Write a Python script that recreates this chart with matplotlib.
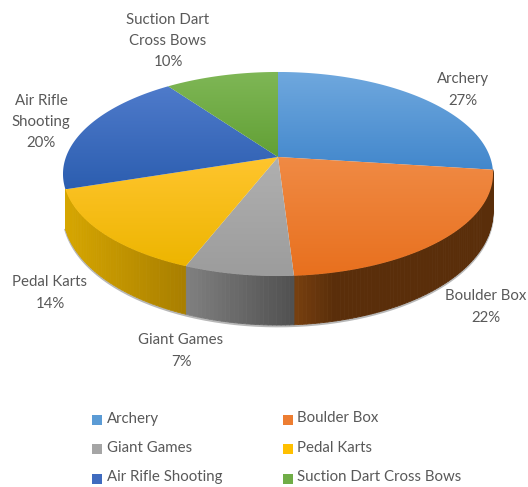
import numpy as np
import matplotlib
matplotlib.use("Agg")
import matplotlib.pyplot as plt
from matplotlib.colors import to_rgb
from matplotlib.patches import Polygon
from matplotlib.collections import PolyCollection

categories = ["Archery", "Boulder Box", "Giant Games", "Pedal Karts", "Air Rifle Shooting", "Suction Dart Cross Bows"]
label_texts = ["Archery\n27%", "Boulder Box\n22%", "Giant Games\n7%", "Pedal Karts\n14%", "Air Rifle\nShooting\n20%", "Suction Dart\nCross Bows\n10%"]
values = [27, 22, 7, 14, 20, 10]
top_light = ["#6FA8DE", "#F08A44", "#B0B0B0", "#FFC52E", "#4F7BCB", "#7FB756"]
top_dark = ["#4287CC", "#E8701E", "#9C9C9C", "#EDB500", "#2C5EB0", "#62A035"]
side_left = ["#5C300C", "#78400F", "#808080", "#D6A600", "#2A5098", "#4C7A30"]
side_right = ["#5A2E0A", "#5A2E0A", "#505050", "#A87E00", "#23457F", "#4C7A30"]
legend_colors = ["#5B9BD5", "#ED7D31", "#A5A5A5", "#FFC000", "#3F6BBF", "#70AD47"]

W, H = 528, 487
fig = plt.figure(figsize=(W / 100, H / 100), dpi=100, facecolor="white")
ax = fig.add_axes([0, 0, 1, 1])
ax.set_xlim(0, W)
ax.set_ylim(H, 0)
ax.axis("off")
plt.rcParams["font.family"] = ["Lato", "DejaVu Sans"]
TEXT = "#595959"

# perspective disc
cx, apex_y, A, B, k = 278, 157, 99.2, 212, 0.1667

def top_xy(t):
    w = 1 + k * np.cos(t)
    return cx + B * np.sin(t) / w, apex_y - A * np.cos(t) / w

def bottom_xy(t):
    x, y = top_xy(t)
    return x, y + 35 - 14 * np.cos(t)

edges = np.radians(np.cumsum([0] + values) * 3.6)
rim_start, rim_end = edges[1], edges[4]

# soft shadow under rim
front = np.linspace(rim_start, rim_end, 200)
sx, sy = bottom_xy(front)
ax.plot(sx, sy + 1.2, color="#9A9A9A", lw=1.6, alpha=0.7, zorder=1)

# rim
for i in range(len(values)):
    a, b = max(edges[i], rim_start), min(edges[i + 1], rim_end)
    if b <= a:
        continue
    ts = np.linspace(a, b, max(int((b - a) * 60), 2) + 1)
    x0, y0 = top_xy(ts)
    x1, y1 = bottom_xy(ts)
    polys, cols = [], []
    c0, c1 = np.array(to_rgb(side_left[i])), np.array(to_rgb(side_right[i]))
    xl, xr = min(x0.min(), x1.min()), max(x0.max(), x1.max())
    for j in range(len(ts) - 1):
        polys.append([(x0[j], y0[j]), (x0[j + 1], y0[j + 1]), (x1[j + 1], y1[j + 1]), (x1[j], y1[j])])
        f = ((x0[j] + x0[j + 1]) / 2 - xl) / max(xr - xl, 1)
        if i == 1:
            f = min(f * 5, 1)  # the orange rim reaches its dark brown quickly
        cols.append(c0 + (c1 - c0) * f)
    ax.add_collection(PolyCollection(polys, facecolors=cols, edgecolors=cols, linewidths=0.6, zorder=2))

# top faces with vertical gradient
for i in range(len(values)):
    ts = np.linspace(edges[i], edges[i + 1], 120)
    x, y = top_xy(ts)
    pts = np.column_stack([np.r_[cx, x], np.r_[apex_y, y]])
    poly = Polygon(pts, closed=True, facecolor="none", edgecolor="none", transform=ax.transData)
    ax.add_patch(poly)
    c0, c1 = np.array(to_rgb(top_light[i])), np.array(to_rgb(top_dark[i]))
    grad = np.linspace(0, 1, 128)[:, None, None] * (c1 - c0)[None, None, :] + c0[None, None, :]
    im = ax.imshow(grad, extent=[pts[:, 0].min(), pts[:, 0].max(), pts[:, 1].max(), pts[:, 1].min()],
                   aspect="auto", zorder=3, interpolation="bilinear")
    im.set_clip_path(poly)
ax.set_xlim(0, W)
ax.set_ylim(H, 0)

# data labels
label_pos = [(463, 90), (486, 307), (181, 351), (50, 293), (41, 122), (168, 41)]
for txt, (lx, ly) in zip(label_texts, label_pos):
    ax.text(lx, ly, txt, ha="center", va="center", fontsize=10.8, color=TEXT, linespacing=1.65, zorder=5)

# legend
swatch_x = [92, 283]
text_x = [107, 297]
swatch_y = [420, 449, 479]
text_y = [418.5, 447.5, 477]
for i, name in enumerate(categories):
    r, c = i // 2, i % 2
    ax.add_patch(plt.Rectangle((swatch_x[c], swatch_y[r] - 5), 10, 10, facecolor=legend_colors[i], edgecolor="none", zorder=4))
    ax.text(text_x[c], text_y[r], name, ha="left", va="center", fontsize=10.8, color=TEXT, zorder=5)

fig.savefig("out.png", dpi=100)
